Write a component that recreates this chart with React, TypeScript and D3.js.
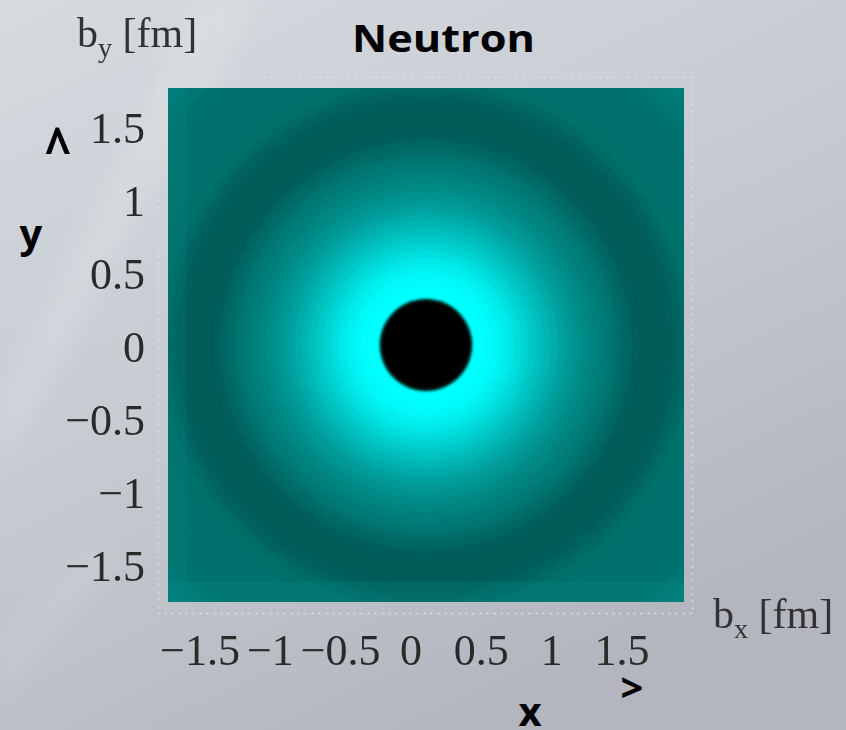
import React from "react";
import * as d3 from "d3";

const W = 846;
const H = 730;

// Outer edge of each density band in the transverse plane, b [fm]
const ringRadius = [
  0.3, 0.32, 0.35, 0.4, 0.45, 0.5, 0.55, 0.6, 0.65, 0.7, 0.75, 0.8, 0.85, 0.9,
  0.95, 1.0, 1.05, 1.1, 1.15, 1.2, 1.25, 1.3, 1.35, 1.4, 1.45, 1.5, 1.55, 1.6,
  1.65, 1.7, 1.75, 1.8, 1.9, 2.0, 2.1, 2.2, 2.3, 2.4, 2.55,
];
// Relative charge density within each band
const ringDensity = [
  -1.6, -0.6, 1.1, 1.02, 0.98, 0.95, 0.9, 0.84, 0.77, 0.7, 0.62, 0.55, 0.48,
  0.41, 0.34, 0.28, 0.23, 0.18, 0.14, 0.1, 0.06, 0.02, -0.03, -0.07, -0.11,
  -0.13, -0.14, -0.14, -0.13, -0.11, -0.08, -0.04, -0.01, 0.0, 0.0, 0.0, 0.01,
  0.04, 0.08,
];

const xTicks = [-1.5, -1, -0.5, 0, 0.5, 1, 1.5];
const yTicks = [-1.5, -1, -0.5, 0, 0.5, 1, 1.5];
const plotDomain = [-1.76, 1.76];

const fmt = (v: number) => (v < 0 ? "\u2212" + Math.abs(v) : String(v));

export default function App() {
  const x = d3.scaleLinear().domain(plotDomain).range([168, 684]);
  const y = d3.scaleLinear().domain(plotDomain).range([602, 88]);
  const xLabel = d3.scaleLinear().domain([-1.5, 1.5]).range([200, 622]);
  const color = d3
    .scaleLinear<string>()
    .domain([-1, -0.14, 0, 1])
    .range(["#000000", "#005a56", "#00716d", "#00ffff"])
    .clamp(true);

  const cx = x(0);
  const cy = y(0);
  const bands = ringRadius
    .map((r, i) => ({ r, v: ringDensity[i] }))
    .sort((a, b) => b.r - a.r);

  const serif = "'Liberation Serif', 'DejaVu Serif', serif";
  const sans = "'Open Sans', 'DejaVu Sans', sans-serif";
  const px0 = x(plotDomain[0]);
  const py0 = y(plotDomain[1]);
  const pw = x(plotDomain[1]) - px0;
  const ph = y(plotDomain[0]) - py0;

  return (
    <svg width={W} height={H} style={{ display: "block", position: "absolute", left: 0, top: 0 }}>
      <defs>
        <linearGradient id="bg" x1="0" y1="0" x2="0.55" y2="1">
          <stop offset="0" stopColor="#d6dbe0" />
          <stop offset="0.5" stopColor="#c7cbd2" />
          <stop offset="1" stopColor="#b3b6be" />
        </linearGradient>
        <filter id="soft" x="-5%" y="-5%" width="110%" height="110%">
          <feGaussianBlur stdDeviation="0.9" />
        </filter>
        <filter id="streak" x="-20%" y="-20%" width="140%" height="140%">
          <feGaussianBlur stdDeviation="10" />
        </filter>
        <filter id="txt">
          <feGaussianBlur stdDeviation="0.45" />
        </filter>
        <clipPath id="plotClip">
          <rect x={px0} y={py0} width={pw} height={ph} />
        </clipPath>
      </defs>

      <rect width={W} height={H} fill="url(#bg)" />
      <polygon points="0,400 0,470 260,0 195,0" fill="#ffffff" opacity={0.14} filter="url(#streak)" />
      <polygon points="0,640 0,700 120,560 90,540" fill="#ffffff" opacity={0.08} filter="url(#streak)" />

      {/* plot frame */}
      <rect x={158.5} y={77.5} width={534} height={536} fill="none" stroke="#e2e3e6" strokeWidth={1.3} strokeDasharray="2 5" />

      {/* density map */}
      <g clipPath="url(#plotClip)">
        <rect x={px0} y={py0} width={pw} height={ph} fill={color(0)} />
        <g filter="url(#soft)">
          {bands.map((d, i) => (
            <ellipse key={i} cx={cx} cy={cy} rx={x(d.r) - cx} ry={cy - y(d.r)} fill={color(d.v)} />
          ))}
        </g>
        {/* lighter strips along the lower and left borders of the map */}
        <rect x={px0} y={py0 + ph - 20} width={pw} height={20} fill="#0a9590" opacity={0.18} />
        <rect x={px0} y={py0} width={18} height={ph} fill="#0a9590" opacity={0.12} />
      </g>

      {/* tick labels */}
      <g fontFamily={serif} fontSize={44} fill="#2b2b2b" filter="url(#txt)">
        {yTicks.map((t) => (
          <text key={"y" + t} x={145} y={y(t) + 17} textAnchor="end">
            {fmt(t)}
          </text>
        ))}
        {xTicks.map((t) => (
          <text key={"x" + t} x={xLabel(t)} y={665} textAnchor="middle">
            {fmt(t)}
          </text>
        ))}
        <text x={77} y={47} fontSize={42} fill="#333">
          b<tspan fontSize={28} dy={10}>y</tspan>
          <tspan dy={-10}> [fm]</tspan>
        </text>
        <text x={713} y={628} fontSize={42} fill="#333">
          b<tspan fontSize={28} dy={10}>x</tspan>
          <tspan dy={-10}> [fm]</tspan>
        </text>
      </g>

      {/* title and direction markers */}
      <g fontFamily={sans} fontWeight={700} fill="#000">
        <text x={352} y={52} fontSize={37} textLength={183} lengthAdjust="spacingAndGlyphs">
          Neutron
        </text>
        <text x={0} y={0} fontSize={46} textAnchor="middle" transform="translate(58,169) scale(1,1.25)">^</text>
        <text x={31} y={248} fontSize={40} textAnchor="middle">y</text>
        <text x={632} y={702} fontSize={40} textAnchor="middle">&gt;</text>
        <text x={530} y={726} fontSize={40} textAnchor="middle">x</text>
      </g>
    </svg>
  );
}
